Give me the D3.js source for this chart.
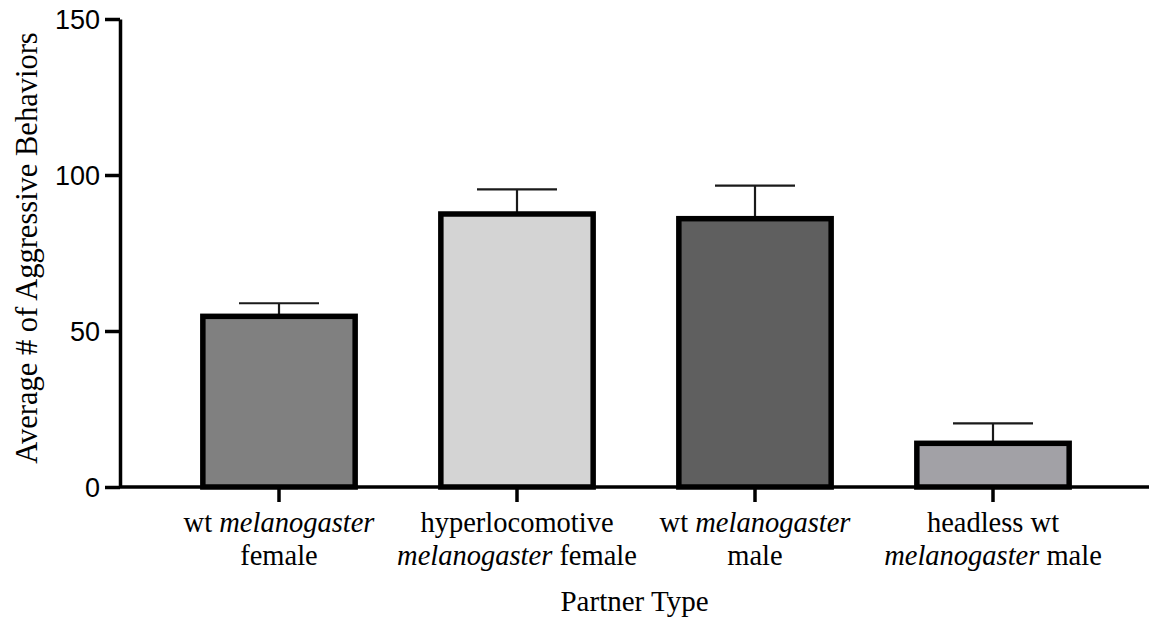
<!DOCTYPE html>
<html>
<head>
<meta charset="utf-8">
<script src="https://cdn.jsdelivr.net/npm/d3@7"></script>
<style>
  html, body { margin: 0; padding: 0; background: #fff; }
  svg { display: block; }
</style>
</head>
<body>
<svg id="chart" width="1152" height="619"></svg>
<script>
// Partner types (category keys) and the two label lines; italic words marked with *...*
const categories = ["wtF", "hyperF", "wtM", "headlessM"];
const labelLines = [
  ["wt *melanogaster*", "female"],
  ["hyperlocomotive", "*melanogaster* female"],
  ["wt *melanogaster*", "male"],
  ["headless wt", "*melanogaster* male"]
];
// Mean number of aggressive behaviours and the upper error (SEM)
const means = [54.7, 87.5, 86.0, 14.0];
const errors = [4.2, 7.9, 10.6, 6.4];
const barColors = ["#808080", "#d4d4d4", "#5f5f5f", "#a2a1a6"];
const yTicks = [0, 50, 100, 150];

const svg = d3.select("#chart");
const x0 = 120, x1 = 1149, yTop = 19, yBase = 487;

const x = d3.scaleBand()
  .domain(categories)
  .range([160, 1112])
  .paddingInner(0.36)
  .paddingOuter(0.18);

const y = d3.scaleLinear().domain([0, 150]).range([yBase, yTop]);

const serif = "'Liberation Serif', 'Times New Roman', serif";
const sans = "'Liberation Sans', Arial, sans-serif";

// Error bars (upper only)
const eb = svg.append("g").attr("stroke", "#1a1a1a").attr("stroke-width", 2.2);
categories.forEach((c, i) => {
  const cx = x(c) + x.bandwidth() / 2;
  eb.append("line")
    .attr("x1", cx).attr("x2", cx)
    .attr("y1", y(means[i])).attr("y2", y(means[i] + errors[i]));
  eb.append("line")
    .attr("x1", cx - 40).attr("x2", cx + 40)
    .attr("y1", y(means[i] + errors[i])).attr("y2", y(means[i] + errors[i]));
});

// Bars
svg.append("g").selectAll("rect")
  .data(categories)
  .join("rect")
  .attr("x", d => x(d))
  .attr("width", x.bandwidth())
  .attr("y", (d, i) => y(means[i]))
  .attr("height", (d, i) => yBase - y(means[i]))
  .attr("fill", (d, i) => barColors[i])
  .attr("stroke", "#000")
  .attr("stroke-width", 5.5);

// Y axis
const yAxis = svg.append("g")
  .attr("transform", `translate(${x0},0)`)
  .call(d3.axisLeft(y).tickValues(yTicks).tickSize(15).tickPadding(5).tickSizeOuter(0));
yAxis.select(".domain").attr("stroke", "#000").attr("stroke-width", 3.5);
yAxis.selectAll(".tick line").attr("stroke", "#000").attr("stroke-width", 3.5);
yAxis.selectAll(".tick text")
  .attr("font-family", sans).attr("font-size", 27).attr("fill", "#000").attr("dy", "0.34em");

// X axis
const xAxis = svg.append("g")
  .attr("transform", `translate(0,${yBase})`)
  .call(d3.axisBottom(x).tickSize(15).tickSizeOuter(0).tickFormat(""));
xAxis.select(".domain").attr("d", `M${x0},0H${x1}`).attr("stroke", "#000").attr("stroke-width", 3.5);
xAxis.selectAll(".tick line").attr("stroke", "#000").attr("stroke-width", 3.5);

// Category labels, two lines, with italic species name
categories.forEach((c, i) => {
  const cx = x(c) + x.bandwidth() / 2;
  labelLines[i].forEach((line, j) => {
    const t = svg.append("text")
      .attr("x", cx).attr("y", 532 + j * 33)
      .attr("text-anchor", "middle")
      .attr("font-family", serif).attr("font-size", 28.5).attr("fill", "#000");
    line.split(/(\*[^*]+\*)/).filter(s => s.length).forEach(part => {
      const it = part.startsWith("*");
      t.append("tspan")
        .attr("font-style", it ? "italic" : "normal")
        .text(it ? part.slice(1, -1) : part);
    });
  });
});

// Axis titles
svg.append("text")
  .attr("x", (x0 + x1) / 2).attr("y", 611)
  .attr("text-anchor", "middle")
  .attr("font-family", serif).attr("font-size", 29).attr("fill", "#000")
  .text("Partner Type");

svg.append("text")
  .attr("transform", `translate(37,${(yTop + yBase) / 2 - 5}) rotate(-90)`)
  .attr("text-anchor", "middle")
  .attr("font-family", serif).attr("font-size", 30.5).attr("fill", "#000")
  .text("Average # of Aggressive Behaviors");
</script>
</body>
</html>
